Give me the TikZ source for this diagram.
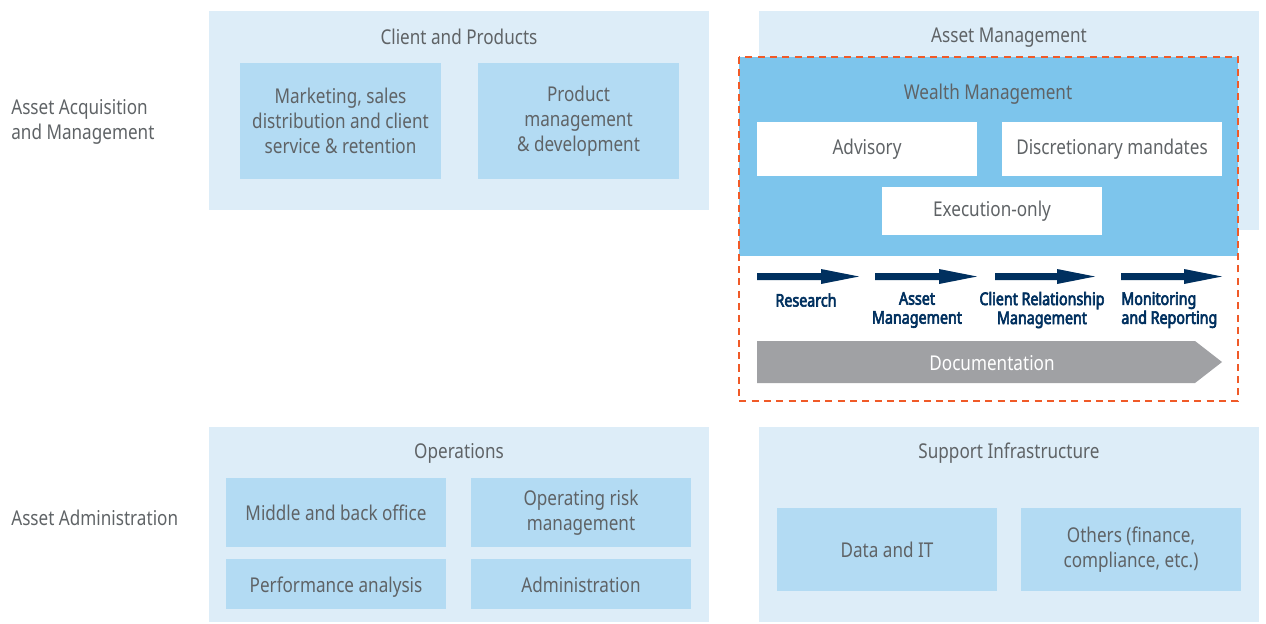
\documentclass[tikz,border=0pt]{standalone}
\usepackage{fontspec}
\setmainfont{Noto Sans}[FakeStretch=0.84]
\newfontfamily\stepfont{Noto Sans}[FakeStretch=0.82, FakeBold=3.5]
\usetikzlibrary{positioning}

\definecolor{paleblue}{HTML}{DDEDF8}
\definecolor{midblue}{HTML}{B3DBF3}
\definecolor{wealthblue}{HTML}{7DC5EC}
\definecolor{navy}{HTML}{00305F}
\definecolor{docgrey}{HTML}{A0A1A4}
\definecolor{dashred}{HTML}{F05A28}
\definecolor{txtgrey}{HTML}{5F6366}

\tikzset{
	panel/.style={fill=paleblue, inner sep=0pt, anchor=north west},
	cell/.style={fill=midblue, text=txtgrey, align=center, inner sep=0pt},
	whitecell/.style={fill=white, text=txtgrey, align=center, inner sep=0pt},
	heading/.style={text=txtgrey},
	steplabel/.style={text=navy, font=\stepfont\fontsize{9.9}{10.8}\selectfont, align=center}
}

\begin{document}
\begin{tikzpicture}[x=0.02cm, y=-0.02cm, font=\fontsize{11.6}{14.2}\selectfont]
	\useasboundingbox (0,0) rectangle (1266,623);

	%row labels
	\node[heading, anchor=west, align=left, inner sep=0pt] (acq) at (11,122) {Asset Acquisition\\and Management};
	\node[heading, anchor=west, inner sep=0pt] (adm) at (11,518) {Asset Administration};

	%client and products
	\node[panel, minimum width=10cm, minimum height=3.98cm] (client) at (209,11) {};
	\node[heading] (clienttitle) at (459,37) {Client and Products};
	\node[cell, minimum width=4.02cm, minimum height=2.32cm] (mkt) at (340.5,121) {Marketing, sales\\distribution and client\\service \& retention};
	\node[cell, minimum width=4.02cm, minimum height=2.32cm] (prod) at (578.5,121) {Product\\management\\\& development};

	%asset management
	\node[panel, minimum width=10cm, minimum height=4.38cm] (asset) at (759,11) {};
	\node[heading] (assettitle) at (1009,38) {Asset Management};

	%wealth management
	\fill[wealthblue] (739,57) rectangle (1238,256);
	\fill[white] (739,256) rectangle (1238,401);
	\node[heading] (wealthtitle) at (988,94) {Wealth Management};
	\node[whitecell, minimum width=4.4cm, minimum height=1.08cm] (advisory) at (867,149) {Advisory};
	\node[whitecell, minimum width=4.4cm, minimum height=1.08cm] (mandates) at (1112,149) {Discretionary mandates};
	\node[whitecell, minimum width=4.4cm, minimum height=0.96cm] (execonly) at (992,211) {Execution-only};

	%process arrows
	\foreach \a/\b in {757/859, 875/977, 995/1095, 1121/1222}
	\fill[navy] (\a,273) -- ({\b-38},273) -- ({\b-38},269) -- (\b,276.5) -- ({\b-38},284) -- ({\b-38},280) -- (\a,280) -- cycle;
	\node[steplabel] (research) at (806,300) {Research};
	\node[steplabel] (assetmgmt) at (917,310) {Asset\\Management};
	\node[steplabel] (crm) at (1042,310) {Client Relationship\\Management};
	\node[steplabel, anchor=west, align=left, inner sep=0pt] (monitor) at (1121,310) {Monitoring\\and Reporting};

	%documentation
	\fill[docgrey] (757,341) -- (1195,341) -- (1222,362) -- (1195,383) -- (757,383) -- cycle;
	\node[text=white] (docu) at (992,363) {Documentation};

	%dashed frame
	\draw[dashred, line width=1.2pt, dash pattern=on 4pt off 3pt] (739,57) rectangle (1238,401);

	%operations
	\node[panel, minimum width=10cm, minimum height=3.9cm] (ops) at (209,427) {};
	\node[heading] (opstitle) at (459,453) {Operations};
	\node[cell, minimum width=4.4cm, minimum height=1.38cm] (midback) at (336,512.5) {Middle and back office};
	\node[cell, minimum width=4.4cm, minimum height=1.38cm] (oprisk) at (581,512.5) {Operating risk\\management};
	\node[cell, minimum width=4.4cm, minimum height=1cm, text height=9.4pt, text depth=0pt] (perf) at (336,584) {Performance analysis};
	\node[cell, minimum width=4.4cm, minimum height=1cm, text height=9.4pt, text depth=0pt] (admin) at (581,584) {Administration};

	%support infrastructure
	\node[panel, minimum width=10cm, minimum height=3.9cm] (support) at (759,427) {};
	\node[heading] (supporttitle) at (1009,453) {Support Infrastructure};
	\node[cell, minimum width=4.4cm, minimum height=1.66cm] (datait) at (887,549.5) {Data and IT};
	\node[cell, minimum width=4.4cm, minimum height=1.66cm] (others) at (1131,549.5) {Others (finance,\\compliance, etc.)};
\end{tikzpicture}
\end{document}
